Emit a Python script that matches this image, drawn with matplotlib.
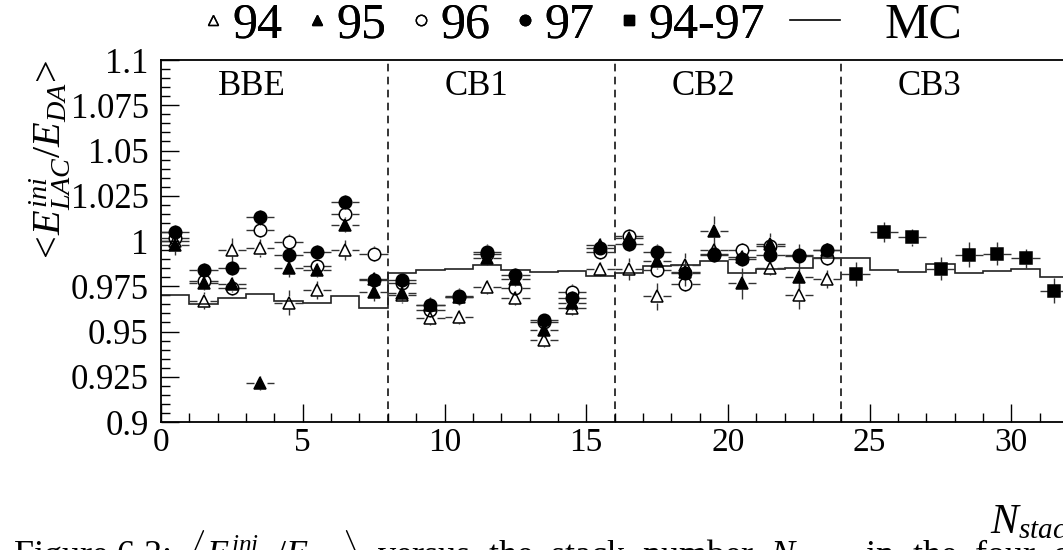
import numpy as np
import matplotlib
matplotlib.use("Agg")
import matplotlib.pyplot as plt
from matplotlib.lines import Line2D
from matplotlib.ticker import MultipleLocator, FixedLocator, FixedFormatter

plt.rcParams['font.family'] = ['Liberation Serif', 'DejaVu Serif']
plt.rcParams['mathtext.fontset'] = 'custom'
plt.rcParams['mathtext.rm'] = 'Liberation Serif'
plt.rcParams['mathtext.it'] = 'Liberation Serif:italic'

# stack bins, one per stack
stack_edges = np.arange(33)
x_single = np.arange(8) + 0.5          # single years only for the first 24 stacks
x_single = np.concatenate([x_single, x_single + 8, x_single + 16])
x_comb = np.arange(24, 32) + 0.5        # 94-97 combined for CB3

y94 = [1.000, 0.967, 0.995, 0.996, 0.966, 0.973, 0.995, 0.979,
       0.970, 0.9574, 0.958, 0.9745, 0.9685, 0.9455, 0.963, 0.9845,
       0.9847, 0.9694, 0.9869, 0.995, 0.991, 0.985, 0.9703, 0.979]
e94 = [0.004, 0.0048, 0.0064, 0.005, 0.007, 0.005, 0.0055, 0.004,
       0.004, 0.004, 0.004, 0.004, 0.004, 0.004, 0.004, 0.004,
       0.006, 0.0074, 0.0064, 0.004, 0.004, 0.004, 0.0078, 0.005]
y95 = [0.998, 0.977, 0.976, 0.9215, 0.985, 0.984, 1.009, 0.972,
       0.9715, 0.9645, 0.969, 0.9905, 0.979, 0.951, 0.9657, 0.9979,
       1.0016, 0.9887, 0.983, 1.0058, 0.9767, 0.9985, 0.9799, 0.995]
e95 = [0.006, 0.004, 0.004, 0.004, 0.005, 0.004, 0.004, 0.005,
       0.004, 0.004, 0.004, 0.004, 0.004, 0.004, 0.004, 0.004,
       0.004, 0.004, 0.004, 0.0078, 0.0085, 0.006, 0.006, 0.004]
y96 = [1.0015, 0.978, 0.974, 1.006, 0.9997, 0.986, 1.015, 0.993,
       0.977, 0.962, 0.9688, 0.993, 0.974, 0.955, 0.9721, 0.9942,
       1.0025, 0.9841, 0.9764, 0.9924, 0.9951, 0.997, 0.9924, 0.9905]
e96 = [0.004] * 24
y97 = [1.005, 0.984, 0.985, 1.013, 0.992, 0.994, 1.0215, 0.9786,
       0.9786, 0.9648, 0.9698, 0.9942, 0.9813, 0.9565, 0.9685, 0.996,
       0.9985, 0.9942, 0.9826, 0.993, 0.990, 0.9924, 0.9918, 0.9951]
e97 = [0.004] * 18 + [0.0073, 0.004, 0.004, 0.004, 0.0064, 0.004]
y9497 = [0.9817, 1.0049, 1.002, 0.9847, 0.9924, 0.993, 0.9905, 0.9725]
e9497 = [0.0066, 0.0055, 0.0048, 0.0064, 0.0069, 0.0064, 0.0053, 0.0068]

mc = [0.9699, 0.9651, 0.9685, 0.9707, 0.9666, 0.9657, 0.9694, 0.963,
      0.9826, 0.984, 0.9846, 0.9869, 0.984, 0.9828, 0.9832, 0.9808,
      0.9823, 0.986, 0.9869, 0.9887, 0.9826, 0.9845, 0.985, 0.9905,
      0.9905, 0.984, 0.9828, 0.9874, 0.9823, 0.9835, 0.9846, 0.980]

regions = ['BBE', 'CB1', 'CB2', 'CB3']
region_edges = [0, 8, 16, 24, 32]

y_ticks = [0.9, 0.925, 0.95, 0.975, 1.0, 1.025, 1.05, 1.075, 1.1]
y_tick_labels = ['0.9', '0.925', '0.95', '0.975', '1', '1.025', '1.05', '1.075', '1.1']

caption = (r'Figure 6.3:  $\langle E^{ini}_{LAC}/E_{DA}\rangle$  versus  the  stack  number  '
           r'$N_{stack}$  in  the  four  calorimeter')

MS = 9.0

fig = plt.figure(figsize=(10.63, 5.5), dpi=100)
ax = fig.add_axes([0.1515, 0.2327, 0.8533, 0.6582])
ax.set_xlim(0, 32)
ax.set_ylim(0.9, 1.1)

# pixels per data unit, used to stop error bars at the marker edge
p0 = ax.transData.transform((0, 0.9))
p1 = ax.transData.transform((1, 1.0))
sx = p1[0] - p0[0]
sy = (p1[1] - p0[1]) / 0.1
r_px = MS * fig.dpi / 72 / 2


def draw_points(x, y, ey, marker, filled, ms=MS):
    x = np.asarray(x, float)
    y = np.asarray(y, float)
    ey = np.asarray(ey, float)
    rx = r_px / sx
    ry = r_px / sy
    bar = dict(color='#333333', lw=1.0, zorder=3)
    ax.hlines(y, x - 0.5, x - rx, **bar)
    ax.hlines(y, x + rx, x + 0.5, **bar)
    up = ey > ry
    ax.vlines(x[up], y[up] + ry, y[up] + ey[up], **bar)
    ax.vlines(x[up], y[up] - ey[up], y[up] - ry, **bar)
    ax.plot(x, y, ls='none', marker=marker, ms=ms, mec='black', mew=1.1,
            mfc='black' if filled else 'none', zorder=4)


ax.stairs(mc, stack_edges, baseline=None, color='#222222', lw=1.2, zorder=2)

draw_points(x_single, y94, e94, '^', False)
draw_points(x_single, y95, e95, '^', True)
draw_points(x_single, y96, e96, 'o', False)
draw_points(x_single, y97, e97, 'o', True)
draw_points(x_comb, y9497, e9497, 's', True, ms=8.6)

for edge in region_edges[1:-1]:
    ax.axvline(edge, color='black', lw=1.1, ls=(0, (5, 3.5)), zorder=1)
for name, start in zip(regions, region_edges[:-1]):
    ax.text(start + 2, 1.0807, name, fontsize=25, va='baseline', ha='left')

ax.xaxis.set_major_locator(MultipleLocator(5))
ax.xaxis.set_minor_locator(MultipleLocator(1))
ax.yaxis.set_major_locator(FixedLocator(y_ticks))
ax.yaxis.set_major_formatter(FixedFormatter(y_tick_labels))
ax.yaxis.set_minor_locator(MultipleLocator(0.005))
ax.tick_params(which='both', direction='in', top=False, right=False, width=1.0)
ax.tick_params(which='major', length=13)
ax.tick_params(which='minor', length=6.5)
ax.tick_params(axis='x', labelsize=24, pad=4)
ax.tick_params(axis='y', labelsize=25, pad=9)
for side in ['left', 'bottom', 'top']:
    ax.spines[side].set_linewidth(1.3)

fig.text(0.047, 0.892, r'$<\!E^{ini}_{LAC}/E_{DA}\!>$', rotation=90,
         fontsize=29, ha='center', va='top')
fig.text(0.931, 0.031, r'$N_{stack}$', fontsize=30, ha='left', va='baseline')
fig.text(0.012, -0.027, caption, fontsize=26, ha='left', va='baseline')

marker_handles = [
    Line2D([], [], ls='none', marker='^', ms=7.5, mfc='none', mec='black', mew=1.0),
    Line2D([], [], ls='none', marker='^', ms=7.5, mfc='black', mec='black'),
    Line2D([], [], ls='none', marker='o', ms=7.5, mfc='none', mec='black', mew=1.0),
    Line2D([], [], ls='none', marker='o', ms=7.5, mfc='black', mec='black'),
    Line2D([], [], ls='none', marker='s', ms=7, mfc='black', mec='black'),
]
leg1 = fig.legend(marker_handles, ['94', '95', '96', '97', '94-97'], ncol=5,
                  loc='center left', bbox_to_anchor=(0.191, 0.955), frameon=False,
                  fontsize=36, handlelength=0.4, handletextpad=0.18,
                  columnspacing=0.5, borderpad=0, borderaxespad=0)
fig.add_artist(leg1)
fig.legend([Line2D([], [], color='black', lw=1.2)], ['MC'],
           loc='center left', bbox_to_anchor=(0.743, 0.955), frameon=False,
           fontsize=36, handlelength=1.0, handletextpad=0.9,
           borderpad=0, borderaxespad=0)

fig.savefig('out.png', dpi=100)
